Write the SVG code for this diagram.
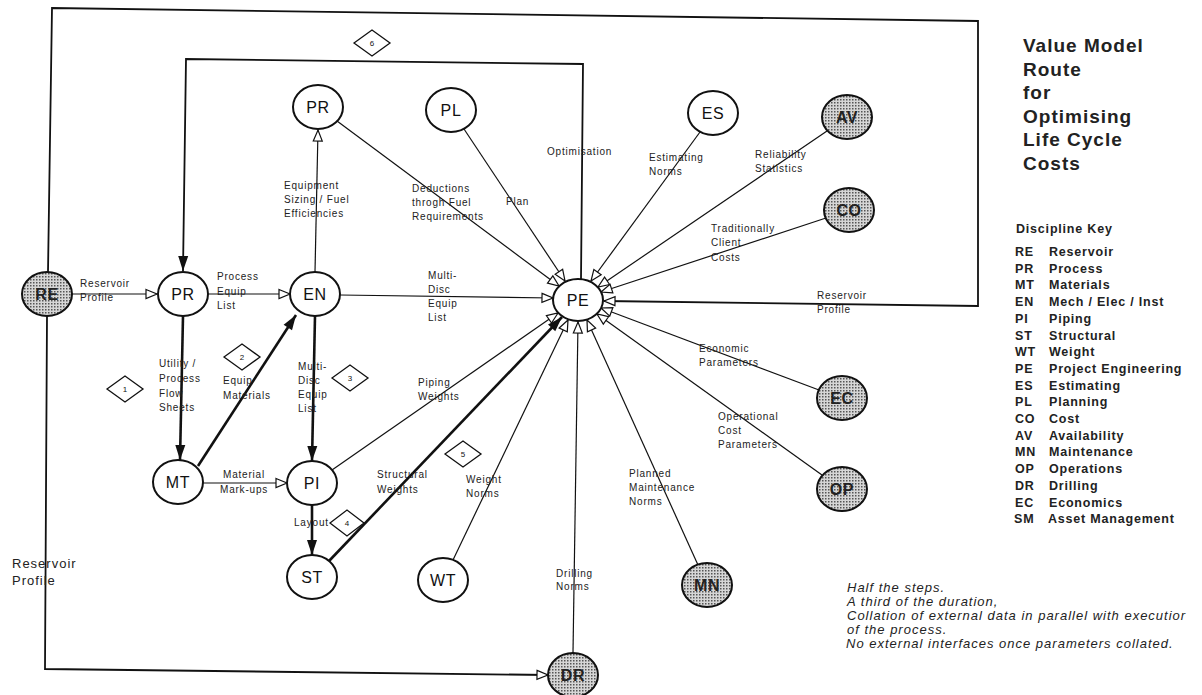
<svg xmlns="http://www.w3.org/2000/svg" width="1202" height="695" viewBox="0 0 1202 695">
<defs>
<style>
.bg{fill:#fff}
.node{fill:#fff;stroke:#111;stroke-width:2}
.shaded{fill:url(#dots);stroke:#111;stroke-width:2}
.nl{font-family:"Liberation Sans",Arial,sans-serif;font-size:16px;fill:#111;text-anchor:middle;letter-spacing:0.6px}
.nlb{font-family:"Liberation Sans",Arial,sans-serif;font-size:16px;font-weight:bold;fill:#222;text-anchor:middle;letter-spacing:0.6px}
.lbl{font-family:"Liberation Sans",Arial,sans-serif;font-size:10px;fill:#222;letter-spacing:0.8px}
.thin{fill:none;stroke:#111;stroke-width:1.2}
.med{fill:none;stroke:#111;stroke-width:1.8}
.thick{fill:none;stroke:#111;stroke-width:2.6}
.dia{fill:#fff;stroke:#111;stroke-width:1.3}
.dn{font-family:"Liberation Sans",Arial,sans-serif;font-size:8px;fill:#111;text-anchor:middle}
.title{font-family:"Liberation Sans",Arial,sans-serif;font-size:19px;font-weight:bold;fill:#222;letter-spacing:1px}
.key{font-family:"Liberation Sans",Arial,sans-serif;font-size:12.5px;font-weight:bold;fill:#222;letter-spacing:0.8px}
.note{font-family:"Liberation Sans",Arial,sans-serif;font-size:13px;font-style:italic;fill:#222;letter-spacing:1px}
.big{font-family:"Liberation Sans",Arial,sans-serif;font-size:13px;fill:#222;letter-spacing:1px}
</style>
<pattern id="dots" width="3" height="3" patternUnits="userSpaceOnUse">
<rect width="3" height="3" fill="#d6d6d6"/>
<rect width="1.5" height="1.5" fill="#555"/>
</pattern>
<marker id="ao" markerUnits="userSpaceOnUse" markerWidth="14" markerHeight="12" refX="12" refY="6" orient="auto" overflow="visible">
<path d="M1,1.5 L12,6 L1,10.5 Z" fill="#fff" stroke="#111" stroke-width="1.2"/>
</marker>
<marker id="af" markerUnits="userSpaceOnUse" markerWidth="16" markerHeight="12" refX="15" refY="6" orient="auto" overflow="visible">
<path d="M0,1 L15,6 L0,11 Z" fill="#111"/>
</marker>
</defs>
<rect class="bg" x="0" y="0" width="1202" height="695"/>

<g id="connectors">
<path class="thin" d="M71,294 L157,294" marker-end="url(#ao)"/>
<path class="thin" d="M208,294 L290,294" marker-end="url(#ao)"/>
<path class="thin" d="M315,272 L318,130" marker-end="url(#ao)"/>
<path class="thin" d="M337,121 L559,286" marker-end="url(#ao)"/>
<path class="thin" d="M464,129 L565,281" marker-end="url(#ao)"/>
<path class="med" d="M581,279 L583,64 L186,59 L183,271" marker-end="url(#af)"/>
<path class="thin" d="M700,132 L591,281" marker-end="url(#ao)"/>
<path class="thin" d="M827,131 L598,287" marker-end="url(#ao)"/>
<path class="thin" d="M826,218 L601,292" marker-end="url(#ao)"/>
<path class="med" d="M48,272 L52,8 L978,21 L978,306 L604,301" marker-end="url(#ao)"/>
<path class="thin" d="M819,390 L601,308" marker-end="url(#ao)"/>
<path class="thin" d="M822,475 L597,314" marker-end="url(#ao)"/>
<path class="thin" d="M698,565 L587,320" marker-end="url(#ao)"/>
<path class="thin" d="M573,653 L578,322" marker-end="url(#ao)"/>
<path class="thin" d="M453,560 L568,320" marker-end="url(#ao)"/>
<path class="thick" d="M329,561 L562,317" marker-end="url(#af)"/>
<path class="thin" d="M332,470 L558,313" marker-end="url(#ao)"/>
<path class="thin" d="M340,295 L553,298" marker-end="url(#ao)"/>
<path class="thick" d="M315,316 L312,461" marker-end="url(#af)"/>
<path class="thick" d="M183,316 L180,460" marker-end="url(#af)"/>
<path class="thick" d="M198,466 L296,315" marker-end="url(#af)"/>
<path class="thin" d="M203,483 L287,483" marker-end="url(#ao)"/>
<path class="thick" d="M312,505 L312,555" marker-end="url(#af)"/>
<path class="med" d="M47,316 L45,669 L548,675" marker-end="url(#ao)"/>

<text class="lbl" x="80" y="286.5">Reservoir</text>
<text class="lbl" x="80" y="300.5">Profile</text>
<text class="lbl" x="217" y="280"><tspan x="217">Process</tspan><tspan x="217" y="294.5">Equip</tspan><tspan x="217" y="308.5">List</tspan></text>
<text class="lbl" x="284" y="188.5"><tspan x="284">Equipment</tspan><tspan x="284" y="202.5">Sizing / Fuel</tspan><tspan x="284" y="216.5">Efficiencies</tspan></text>
<text class="lbl" x="412" y="191.5"><tspan x="412">Deductions</tspan><tspan x="412" y="205.5">throgh Fuel</tspan><tspan x="412" y="219.5">Requirements</tspan></text>
<text class="lbl" x="506" y="204.5">Plan</text>
<text class="lbl" x="547" y="154.5">Optimisation</text>
<text class="lbl" x="649" y="160.5"><tspan x="649">Estimating</tspan><tspan x="649" y="174.5">Norms</tspan></text>
<text class="lbl" x="755" y="157.5"><tspan x="755">Reliability</tspan><tspan x="755" y="171.5">Statistics</tspan></text>
<text class="lbl" x="711" y="231.5"><tspan x="711">Traditionally</tspan><tspan x="711" y="246">Client</tspan><tspan x="711" y="260.5">Costs</tspan></text>
<text class="lbl" x="817" y="298.5"><tspan x="817">Reservoir</tspan><tspan x="817" y="312.5">Profile</tspan></text>
<text class="lbl" x="699" y="351.5"><tspan x="699">Economic</tspan><tspan x="699" y="365.5">Parameters</tspan></text>
<text class="lbl" x="718" y="419.5"><tspan x="718">Operational</tspan><tspan x="718" y="433.5">Cost</tspan><tspan x="718" y="447.5">Parameters</tspan></text>
<text class="lbl" x="629" y="476.5"><tspan x="629">Planned</tspan><tspan x="629" y="490.5">Maintenance</tspan><tspan x="629" y="504.5">Norms</tspan></text>
<text class="lbl" x="556" y="576.5"><tspan x="556">Drilling</tspan><tspan x="556" y="590">Norms</tspan></text>
<text class="lbl" x="466" y="482.5"><tspan x="466">Weight</tspan><tspan x="466" y="496.5">Norms</tspan></text>
<text class="lbl" x="377" y="477.5"><tspan x="377">Structural</tspan><tspan x="377" y="492.5">Weights</tspan></text>
<text class="lbl" x="418" y="385.5"><tspan x="418">Piping</tspan><tspan x="418" y="399.5">Weights</tspan></text>
<text class="lbl" x="428" y="278.5"><tspan x="428">Multi-</tspan><tspan x="428" y="292.5">Disc</tspan><tspan x="428" y="306.5">Equip</tspan><tspan x="428" y="320.5">List</tspan></text>
<text class="lbl" x="298" y="369.5"><tspan x="298">Multi-</tspan><tspan x="298" y="383.5">Disc</tspan><tspan x="298" y="397.5">Equip</tspan><tspan x="298" y="411.5">List</tspan></text>
<text class="lbl" x="159" y="366.5"><tspan x="159">Utility /</tspan><tspan x="159" y="382">Process</tspan><tspan x="159" y="396.5">Flow</tspan><tspan x="159" y="410.5">Sheets</tspan></text>
<text class="lbl" x="223" y="383.5"><tspan x="223">Equip</tspan><tspan x="223" y="398.5">Materials</tspan></text>
<text class="lbl" x="223" y="477.5"><tspan x="223">Material</tspan><tspan x="220" y="492.5">Mark-ups</tspan></text>
<text class="lbl" x="294" y="525.5">Layout</text>
<text class="big" x="12" y="568"><tspan x="12">Reservoir</tspan><tspan x="12" y="585">Profile</tspan></text>
</g>

<g id="steps">
<g id="step6"><polygon class="dia" points="354,43 372,30 390,43 372,56"/><text class="dn" x="372" y="46">6</text></g>
<g id="step1"><polygon class="dia" points="107,389 125,376 143,389 125,402"/><text class="dn" x="125" y="392">1</text></g>
<g id="step2"><polygon class="dia" points="224,357 242,344 260,357 242,370"/><text class="dn" x="242" y="360">2</text></g>
<g id="step3"><polygon class="dia" points="332,378 350,365 368,378 350,391"/><text class="dn" x="350" y="381">3</text></g>
<g id="step4"><polygon class="dia" points="330,523 347,510 364,523 347,536"/><text class="dn" x="347" y="526">4</text></g>
<g id="step5"><polygon class="dia" points="445,454 463,441 481,454 463,467"/><text class="dn" x="463" y="457">5</text></g>
</g>

<g id="node-RE"><ellipse class="shaded" cx="47" cy="294" rx="25" ry="22"/><text class="nlb" x="47" y="300">RE</text></g>
<g id="node-PR"><ellipse class="node" cx="183" cy="294" rx="25" ry="22"/><text class="nl" x="183" y="300">PR</text></g>
<g id="node-EN"><ellipse class="node" cx="315" cy="294" rx="25" ry="22"/><text class="nl" x="315" y="300">EN</text></g>
<g id="node-PE"><ellipse class="node" cx="578" cy="300" rx="25" ry="21"/><text class="nl" x="578" y="306">PE</text></g>
<g id="node-PR2"><ellipse class="node" cx="318" cy="107" rx="25" ry="22"/><text class="nl" x="318" y="113">PR</text></g>
<g id="node-PL"><ellipse class="node" cx="451" cy="110" rx="25" ry="22"/><text class="nl" x="451" y="116">PL</text></g>
<g id="node-ES"><ellipse class="node" cx="713" cy="113" rx="25" ry="22"/><text class="nl" x="713" y="119">ES</text></g>
<g id="node-AV"><ellipse class="shaded" cx="847" cy="117" rx="25" ry="22"/><text class="nlb" x="847" y="123">AV</text></g>
<g id="node-CO"><ellipse class="shaded" cx="849" cy="210" rx="25" ry="22"/><text class="nlb" x="849" y="216">CO</text></g>
<g id="node-EC"><ellipse class="shaded" cx="842" cy="398" rx="25" ry="22"/><text class="nlb" x="842" y="404">EC</text></g>
<g id="node-OP"><ellipse class="shaded" cx="842" cy="489" rx="25" ry="22"/><text class="nlb" x="842" y="495">OP</text></g>
<g id="node-MN"><ellipse class="shaded" cx="707" cy="585" rx="25" ry="22"/><text class="nlb" x="707" y="591">MN</text></g>
<g id="node-DR"><ellipse class="shaded" cx="573" cy="675" rx="25" ry="22"/><text class="nlb" x="573" y="681">DR</text></g>
<g id="node-WT"><ellipse class="node" cx="443" cy="580" rx="25" ry="22"/><text class="nl" x="443" y="586">WT</text></g>
<g id="node-ST"><ellipse class="node" cx="312" cy="577" rx="25" ry="22"/><text class="nl" x="312" y="583">ST</text></g>
<g id="node-PI"><ellipse class="node" cx="312" cy="483" rx="25" ry="22"/><text class="nl" x="312" y="489">PI</text></g>
<g id="node-MT"><ellipse class="node" cx="178" cy="482" rx="25" ry="22"/><text class="nl" x="178" y="488">MT</text></g>

<g id="title">
<text class="title" x="1023" y="52">Value Model</text>
<text class="title" x="1023" y="75.5">Route</text>
<text class="title" x="1023" y="99">for</text>
<text class="title" x="1023" y="122.5">Optimising</text>
<text class="title" x="1023" y="146">Life Cycle</text>
<text class="title" x="1023" y="169.5">Costs</text>
</g>

<g id="key">
<text class="key" x="1016" y="233">Discipline Key</text>
<text class="key" x="1015" y="256">RE</text><text class="key" x="1049" y="256">Reservoir</text>
<text class="key" x="1015" y="272.7">PR</text><text class="key" x="1049" y="272.7">Process</text>
<text class="key" x="1015" y="289.4">MT</text><text class="key" x="1049" y="289.4">Materials</text>
<text class="key" x="1015" y="306.1">EN</text><text class="key" x="1049" y="306.1">Mech / Elec / Inst</text>
<text class="key" x="1015" y="322.8">PI</text><text class="key" x="1049" y="322.8">Piping</text>
<text class="key" x="1015" y="339.5">ST</text><text class="key" x="1049" y="339.5">Structural</text>
<text class="key" x="1015" y="356.2">WT</text><text class="key" x="1049" y="356.2">Weight</text>
<text class="key" x="1015" y="372.9">PE</text><text class="key" x="1049" y="372.9">Project Engineering</text>
<text class="key" x="1015" y="389.6">ES</text><text class="key" x="1049" y="389.6">Estimating</text>
<text class="key" x="1015" y="406.3">PL</text><text class="key" x="1049" y="406.3">Planning</text>
<text class="key" x="1015" y="423">CO</text><text class="key" x="1049" y="423">Cost</text>
<text class="key" x="1015" y="439.7">AV</text><text class="key" x="1049" y="439.7">Availability</text>
<text class="key" x="1015" y="456.4">MN</text><text class="key" x="1049" y="456.4">Maintenance</text>
<text class="key" x="1015" y="473.1">OP</text><text class="key" x="1049" y="473.1">Operations</text>
<text class="key" x="1015" y="489.8">DR</text><text class="key" x="1049" y="489.8">Drilling</text>
<text class="key" x="1015" y="506.5">EC</text><text class="key" x="1049" y="506.5">Economics</text>
<text class="key" x="1014" y="523.2">SM</text><text class="key" x="1048" y="523.2">Asset Management</text>
</g>

<g id="notes">
<text class="note" x="847" y="592">Half the steps.</text>
<text class="note" x="847" y="606">A third of the duration,</text>
<text class="note" x="847" y="620">Collation of external data in parallel with executior</text>
<text class="note" x="847" y="634">of the process.</text>
<text class="note" x="846" y="648">No external interfaces once parameters collated.</text>
</g>
</svg>
